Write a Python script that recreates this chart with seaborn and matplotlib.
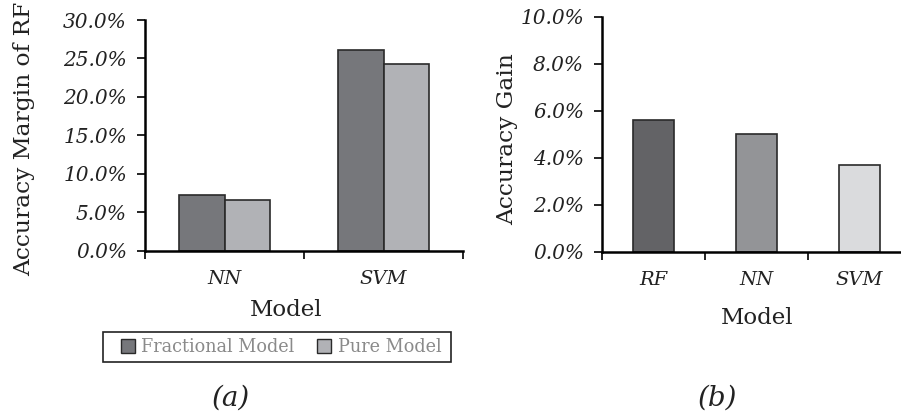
import matplotlib
matplotlib.use("Agg")
import matplotlib.pyplot as plt
import seaborn as sns
import pandas as pd
from matplotlib.ticker import FuncFormatter, FixedLocator, NullFormatter
from matplotlib.patches import Patch, Rectangle

# Panel (a): accuracy margin of RF over other models
margin_models = ["NN", "SVM"]
margin_fractional = [7.2, 26.1]
margin_pure = [6.6, 24.3]
margin_series = ["Fractional Model", "Pure Model"]
margin_colors = ["#76777b", "#b1b2b6"]
margin_ticks = [0, 5, 10, 15, 20, 25, 30]

# Panel (b): accuracy gain per model
gain_models = ["RF", "NN", "SVM"]
gain_values = [5.6, 5.0, 3.7]
gain_colors = ["#636366", "#939497", "#dadbdd"]
gain_ticks = [0, 2, 4, 6, 8, 10]

sns.set_theme(style="white")
plt.rcParams["font.family"] = ["DejaVu Serif", "DejaVu Sans"]

W, H = 901, 418
fig = plt.figure(figsize=(W / 100, H / 100), dpi=100)

def px_axes(x0, x1, ytop, ybot):
    return fig.add_axes([x0 / W, (H - ybot) / H, (x1 - x0) / W, (ybot - ytop) / H])

edge = "#2a2a2a"
ink = "#222222"

def style_axes(ax, ncat, yticks, ylabel):
    for s in ["top", "right"]:
        ax.spines[s].set_visible(False)
    for s in ["left", "bottom"]:
        ax.spines[s].set_color("black")
        ax.spines[s].set_linewidth(1.8)
    ax.set_xlim(-0.5, ncat - 0.5)
    ax.set_ylim(yticks[0], yticks[-1])
    ax.set_yticks(yticks)
    ax.yaxis.set_major_formatter(FuncFormatter(lambda v, p: f"{v:.1f}%"))
    ax.tick_params(axis="y", which="major", direction="out", length=6, width=1.2,
                   color="black", left=True, pad=7, labelsize=14.5)
    # category boundaries carry the tick marks, labels sit at the centres
    ax.xaxis.set_minor_locator(FixedLocator([i - 0.5 for i in range(ncat + 1)]))
    ax.xaxis.set_minor_formatter(NullFormatter())
    ax.tick_params(axis="x", which="minor", direction="out", length=6, width=1.2,
                   color="black", bottom=True)
    ax.tick_params(axis="x", which="major", length=0, pad=14, labelsize=14)
    for lab in ax.get_xticklabels() + ax.get_yticklabels():
        lab.set_fontstyle("italic")
        lab.set_color(ink)
    ax.set_xlabel("")
    ax.set_ylabel(ylabel, fontsize=16.8, color=ink)
    ax.grid(False)

# ---- panel (a)
df_a = pd.DataFrame({
    "Model": margin_models * 2,
    "Value": margin_fractional + margin_pure,
    "Type": [margin_series[0]] * len(margin_models) + [margin_series[1]] * len(margin_models),
})
ax1 = px_axes(145, 463, 20, 250.5)
sns.barplot(data=df_a, x="Model", y="Value", hue="Type", hue_order=margin_series,
            palette=margin_colors, width=0.57, edgecolor=edge, linewidth=1.2,
            saturation=1, ax=ax1, legend=False)
style_axes(ax1, len(margin_models), margin_ticks, "Accuracy Margin of RF")
ax1.yaxis.set_label_coords(-0.346, 0.484)
fig.text(286 / W, 1 - 310 / H, "Model", ha="center", va="center", fontsize=16.5, color=ink)

# legend: boxed strip below panel (a)
fig.patches.append(Rectangle((103 / W, 1 - 362 / H), 348 / W, 30 / H,
                             transform=fig.transFigure, fill=False,
                             edgecolor=ink, linewidth=1.2))
handles = [Patch(facecolor=c, edgecolor=edge, linewidth=1.0) for c in margin_colors]
fig.legend(handles, margin_series, loc="center", bbox_to_anchor=(281 / W, 1 - 347 / H),
           ncol=2, frameon=False, fontsize=12.7, handlelength=0.8,
           handleheight=0.8, handletextpad=0.35, columnspacing=1.3,
           borderpad=0.3, labelcolor="#8a8a8a")
fig.text(231 / W, 1 - 398 / H, "(a)", ha="center", va="center", fontsize=20,
         fontstyle="italic", color=ink)

# ---- panel (b)
df_b = pd.DataFrame({"Model": gain_models, "Value": gain_values})
ax2 = px_axes(602, 911, 16.7, 251.7)
sns.barplot(data=df_b, x="Model", y="Value", hue="Model", palette=gain_colors,
            width=0.4, edgecolor=edge, linewidth=1.2, saturation=1, ax=ax2, legend=False)
style_axes(ax2, len(gain_models), gain_ticks, "Accuracy Gain")
ax2.yaxis.set_label_coords(-0.272, 0.48)
fig.text(757 / W, 1 - 318 / H, "Model", ha="center", va="center", fontsize=16.5, color=ink)
fig.text(717 / W, 1 - 398 / H, "(b)", ha="center", va="center", fontsize=20,
         fontstyle="italic", color=ink)

fig.savefig("out.png", dpi=100, facecolor="white")
